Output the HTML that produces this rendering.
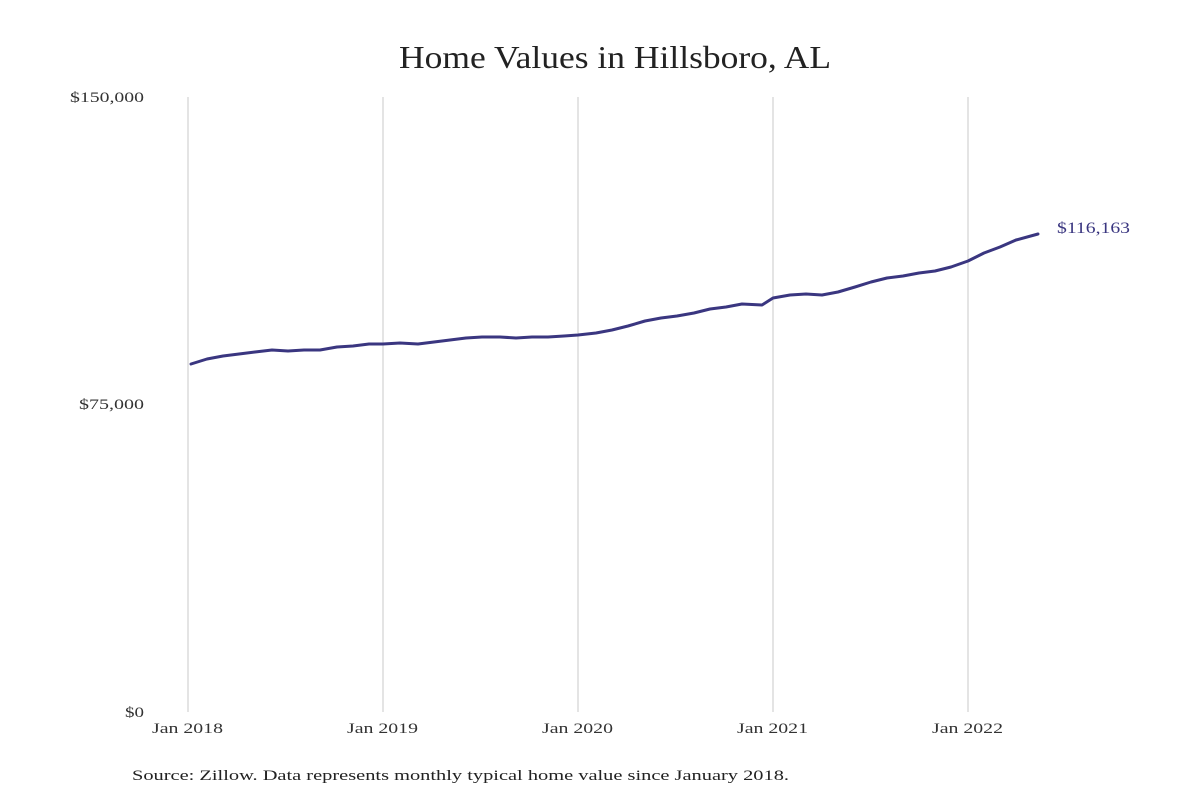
<!DOCTYPE html>
<html><head><meta charset="utf-8"><style>
html,body{margin:0;padding:0;background:#fff;}
svg{display:block;font-family:"Liberation Serif",serif;}
</style></head><body>
<svg width="1200" height="800" viewBox="0 0 1200 800" xmlns="http://www.w3.org/2000/svg">
<rect width="1200" height="800" fill="#fff"/>
<text x="399" y="68" font-size="32" fill="#222" textLength="432" lengthAdjust="spacingAndGlyphs">Home Values in Hillsboro, AL</text>
<g stroke="#c8c8c8" stroke-width="1">
<line x1="188" y1="97" x2="188" y2="712"/>
<line x1="383" y1="97" x2="383" y2="712"/>
<line x1="578" y1="97" x2="578" y2="712"/>
<line x1="773" y1="97" x2="773" y2="712"/>
<line x1="968" y1="97" x2="968" y2="712"/>
</g>
<g font-size="15" fill="#333">
<text x="70" y="102" textLength="74" lengthAdjust="spacingAndGlyphs">$150,000</text>
<text x="79" y="409" textLength="65" lengthAdjust="spacingAndGlyphs">$75,000</text>
<text x="125" y="717" textLength="19" lengthAdjust="spacingAndGlyphs">$0</text>
</g>
<g font-size="15" fill="#333">
<text x="152" y="733" textLength="71" lengthAdjust="spacingAndGlyphs">Jan 2018</text>
<text x="347" y="733" textLength="71" lengthAdjust="spacingAndGlyphs">Jan 2019</text>
<text x="542" y="733" textLength="71" lengthAdjust="spacingAndGlyphs">Jan 2020</text>
<text x="737" y="733" textLength="71" lengthAdjust="spacingAndGlyphs">Jan 2021</text>
<text x="932" y="733" textLength="71" lengthAdjust="spacingAndGlyphs">Jan 2022</text>
</g>
<polyline fill="none" stroke="#3a3680" stroke-width="3" stroke-linejoin="round" stroke-linecap="round"
points="191,364 207,359 223,356 239,354 255,352 272,350 288,351 304,350 320,350 337,347 353,346 369,344 383,344 400,343 418,344 434,342 450,340 466,338 482,337 500,337 516,338 532,337 548,337 564,336 578,335 596,333 612,330 628,326 645,321 661,318 677,316 694,313 710,309 726,307 742,304 762,305 773,298 790,295 806,294 822,295 838,292 855,287 871,282 887,278 903,276 919,273 935,271 951,267 968,261 984,253 1000,247 1016,240 1038,234"/>
<text x="1057" y="233" font-size="16" fill="#3a3680" textLength="73" lengthAdjust="spacingAndGlyphs">$116,163</text>
<text x="132" y="780" font-size="15" fill="#222" textLength="657" lengthAdjust="spacingAndGlyphs">Source: Zillow. Data represents monthly typical home value since January 2018.</text>
</svg>
</body></html>
